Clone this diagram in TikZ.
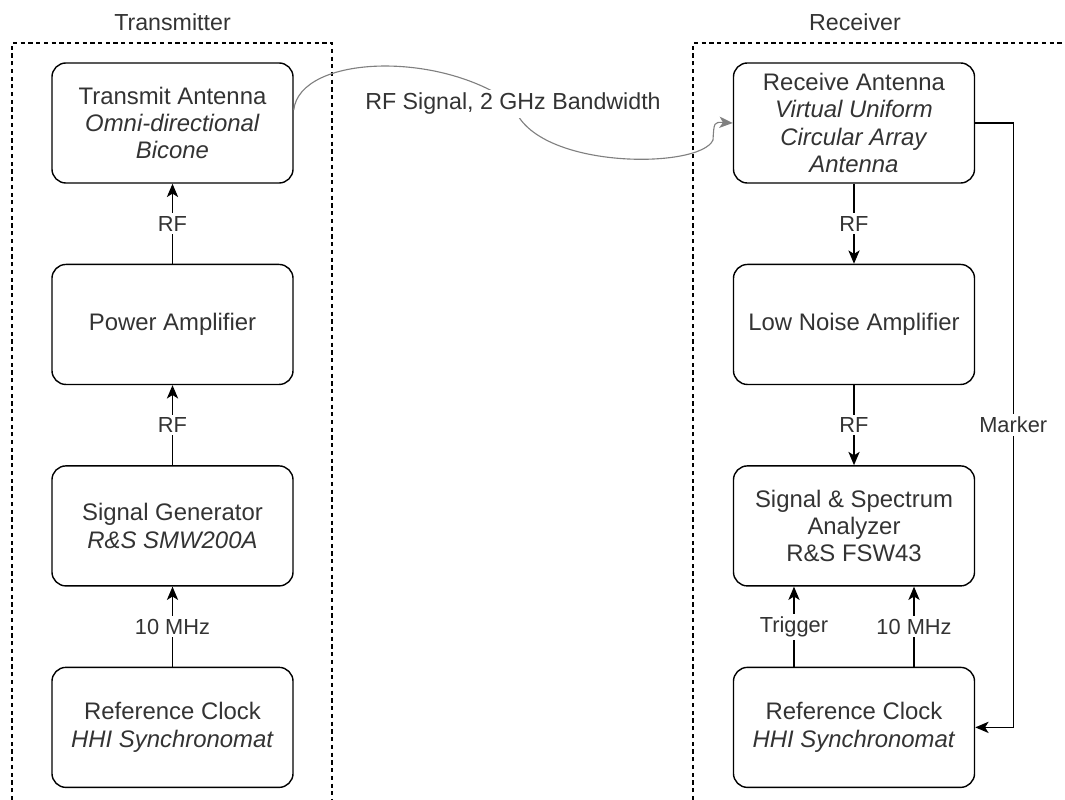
\documentclass[tikz,border=0pt]{standalone}
\usepackage{fontspec}
\setmainfont{Liberation Sans}
\usetikzlibrary{positioning, arrows.meta}

\begin{document}
\begin{tikzpicture}[x=0.025cm, y=-0.025cm, node distance=2cm]
    % Define styles
    \tikzstyle{block} = [rectangle, draw, rounded corners=0.35cm, line width=1pt, align=center, minimum width=6.025cm, minimum height=3cm, text=black!80, font=\fontsize{17}{19.5}\selectfont]
    \tikzstyle{wire} = [-{Stealth[length=9.5pt, width=8pt, inset=2.5pt]}, line width=1pt]
    \tikzstyle{tag} = [fill=white, inner sep=2pt, text=black!80, font=\fontsize{15.5}{18}\selectfont]
    \tikzstyle{wave} = [-{Stealth[length=9.5pt, width=8pt, inset=2.5pt]}, line width=0.8pt, draw=gray]
    \tikzstyle{frame} = [dash pattern=on 3pt off 2.5pt, line width=1pt]

    \useasboundingbox (0,0) rectangle (1065,800);

    % Frames
    \draw[frame] (12,800) -- (12,43) -- (332,43) -- (332,800);
    \draw[frame] (693,800) -- (693,43) -- (1070,43);
    \node[text=black!80, font=\fontsize{16.5}{19.5}\selectfont] (txtitle) at (172.5,22) {Transmitter};
    \node[text=black!80, font=\fontsize{16.5}{19.5}\selectfont] (rxtitle) at (855,22) {Receiver};

    % Transmitter
    \node[block] (tx) at (172.5,123) {Transmit Antenna\\\textit{Omni-directional}\\\textit{Bicone}};
    \node[block, below=of tx] (pa) {Power Amplifier};
    \node[block, below=of pa] (sg) {Signal Generator\\\textit{R\&S SMW200A}};
    \node[block, below=of sg] (rc) {Reference Clock\\\textit{HHI Synchronomat}};

    % Receiver
    \node[block] (rx) at (854,123) {Receive Antenna\\\textit{Virtual Uniform}\\\textit{Circular Array}\\\textit{Antenna}};
    \node[block, below=of rx] (lna) {Low Noise Amplifier};
    \node[block, below=of lna] (sa) {Signal \& Spectrum\\Analyzer\\R\&S FSW43};
    \node[block, below=of sa] (rc2) {Reference Clock\\\textit{HHI Synchronomat}};

    % Relations
    \draw[wire] (rc) -- node[tag] {10 MHz} (sg);
    \draw[wire] (sg) -- node[tag] {RF} (pa);
    \draw[wire] (pa) -- node[tag] {RF} (tx);

    \draw[wire] (rx) -- node[tag] {RF} (lna);
    \draw[wire] (lna) -- node[tag] {RF} (sa);
    \draw[wire] ([xshift=-1.5cm]rc2.north) -- node[tag] {Trigger} ([xshift=-1.5cm]sa.south);
    \draw[wire] ([xshift=1.5cm]rc2.north) -- node[tag] {10 MHz} ([xshift=1.5cm]sa.south);
    \draw[wire] (rx.east) -- ++(38,0) |- node[tag, pos=0.25] {Marker} (rc2.east);

    % Radio link
    \draw[wave] ([yshift=0.325cm]tx.east) .. controls (300,55) and (440,50) .. (513,104)
        node[tag, font=\fontsize{16.5}{19.5}\selectfont] (sig) {RF Signal, 2 GHz Bandwidth}
        .. controls (530,170) and (700,170) .. (713,140) .. controls (714,122) .. (rx.west);

\end{tikzpicture}
\end{document}
